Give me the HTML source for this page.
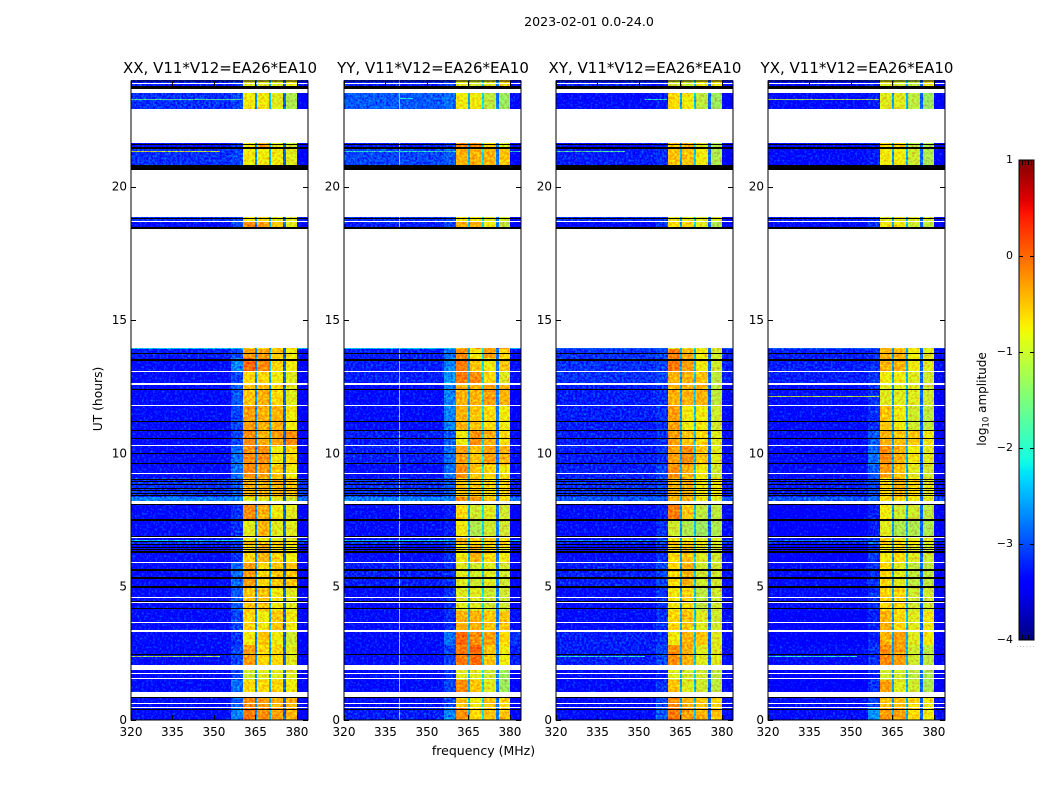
<!DOCTYPE html>
<html>
<head>
<meta charset="utf-8">
<title>2023-02-01 0.0-24.0</title>
<style>
html,body{margin:0;padding:0;background:#fff;}
svg{display:block;}
text{font-family:"DejaVu Sans","Liberation Sans",sans-serif;fill:#000;}
</style>
</head>
<body>
<svg id="chart" xmlns="http://www.w3.org/2000/svg" width="1050" height="800" viewBox="0 0 1050 800">
<defs>
<linearGradient id="jet-gradient" x1="0" y1="0" x2="0" y2="1"></linearGradient>
<filter id="speckle-strong" filterUnits="userSpaceOnUse" x="0" y="0" width="1050" height="800" color-interpolation-filters="sRGB">
<feTurbulence type="fractalNoise" baseFrequency="0.45" numOctaves="2" seed="3" result="n"/>
<feColorMatrix in="n" type="matrix" values="0 0 0 0 0.7 1 0 0 0 0 0 0 0 0 0.7 0 0 0 0 1" result="g"/>
<feComposite in="SourceGraphic" in2="g" operator="arithmetic" k1="0" k2="1" k3="1" k4="-0.7" result="m"/>
<feComposite in="m" in2="SourceAlpha" operator="in"/>
</filter>
<filter id="speckle-soft" filterUnits="userSpaceOnUse" x="0" y="0" width="1050" height="800" color-interpolation-filters="sRGB">
<feTurbulence type="fractalNoise" baseFrequency="0.4" numOctaves="2" seed="8" result="n"/>
<feColorMatrix in="n" type="matrix" values="0 0 0 0 0.6 1 0 0 0 0 0 0 0 0 0.6 0 0 0 0 1" result="g"/>
<feComposite in="SourceGraphic" in2="g" operator="arithmetic" k1="0" k2="1" k3="0.8" k4="-0.48" result="m"/>
<feComposite in="m" in2="SourceAlpha" operator="in"/>
</filter>
</defs>
<text x="589" y="26" font-size="12.6" text-anchor="middle">2023-02-01 0.0-24.0</text>
<text x="483.5" y="755" font-size="12.5" text-anchor="middle">frequency (MHz)</text>
<text x="102" y="399" font-size="12.3" text-anchor="middle" transform="rotate(-90 102 399)">UT (hours)</text>
<text x="986" y="399" font-size="12" text-anchor="middle" transform="rotate(-90 986 399)">log<tspan font-size="8.5" dy="2.5">10</tspan><tspan dy="-2.5"> amplitude</tspan></text>
<g id="panels"></g>
<g id="colorbar"></g>
</svg>
<script>
// ---- data ----
const panelTitles = ['XX, V11*V12=EA26*EA10', 'YY, V11*V12=EA26*EA10', 'XY, V11*V12=EA26*EA10', 'YX, V11*V12=EA26*EA10'];
const xTickLabels = [320, 335, 350, 365, 380];
const yTickLabels = [0, 5, 10, 15, 20];
const colorbarTickLabels = [1, 0, -1, -2, -3, -4];

// Time blocks with data, [start, end] in hours UT
const timeBlocks = [[0,.45],[.45,.86],[1.05,1.5],[1.5,1.88],[2.06,2.8],[2.8,3.33],[3.33,4.1],[4.1,5],[5,5.9],[5.9,6.55],[6.55,6.68],[6.68,6.75],[6.75,6.87],[6.87,7.5],[7.5,8.1],[8.21,8.37],[8.37,9.07],[9.07,9.57],[9.57,10.32],[10.32,10.87],[10.87,11.8],[11.8,12.6],[12.6,13.05],[13.05,13.58],[13.58,13.92],[13.92,13.96],[18.43,18.68],[18.68,18.87],[20.64,21.4],[21.4,21.64],[22.91,23.51],[23.77,24]];

// Frequency columns in MHz: background, band edge, four bright bands, right side
const freqColumns = [[320,356],[356,360.5],[360.5,364.7],[365.6,369.9],[370.6,375],[375.9,380],[380,384]];
const gapColumns = [[364.7,365.6],[369.9,370.6],[375,375.9]];

// Log amplitude x10 per time block, one row per block: [background, edge, band1..band4, right]
const xxLevels = [
[-31,-25,-2,-3,-4,-5,-32],[-31,-27,-3,-4,-5,-5,-32],[-31,-26,-7,-7,-7,-8,-32],[-31,-28,-10,-9,-9,-9,-32],
[-31,-28,-4,-7,-7,-9,-32],[-31,-29,-8,-6,-8,-10,-32],[-31,-28,-7,-8,-6,-8,-32],[-31,-27,-6,-6,-8,-9,-32],
[-31,-26,-4,-7,-6,-6,-32],[-31,-29,-7,-5,-7,-8,-32],[-29,-28,-5,-6,-6,-7,-30],[-22,-22,-9,-9,-9,-9,-24],
[-31,-29,-8,-8,-9,-9,-32],[-31,-29,-9,-5,-9,-9,-32],[-31,-29,-3,-5,-8,-9,-32],[-25,-25,-9,-9,-9,-10,-26],
[-29,-27,-5,-5,-5,-6,-29],[-31,-26,-3,-4,-6,-8,-32],[-31,-26,-3,-3,-8,-7,-32],[-31,-28,-3,-5,-4,-3,-32],
[-31,-28,-4,-5,-5,-8,-32],[-31,-27,-6,-5,-7,-9,-32],[-31,-28,-7,-7,-8,-9,-32],[-31,-25,-1,-3,-7,-8,-32],
[-30,-28,-4,-4,-6,-8,-31],[-22,-22,-7,-7,-7,-7,-23],[-31,-28,-3,-4,-6,-9,-32],[-29,-28,-8,-8,-9,-9,-30],
[-29,-28,-8,-8,-8,-9,-32],[-31,-29,-8,-5,-9,-10,-32],[-29,-28,-8,-8,-9,-12,-32],[-30,-29,-9,-9,-9,-8,-31]];
const yyLevels = [
[-30,-25,-3,-7,-6,-6,-32],[-31,-28,-6,-8,-6,-7,-32],[-31,-28,-3,-6,-9,-13,-32],[-31,-29,-9,-9,-10,-13,-32],
[-31,-28,-2,-1,-6,-8,-30],[-31,-26,-1,-3,-4,-7,-29],[-31,-29,-5,-5,-6,-6,-31],[-31,-29,-9,-9,-10,-10,-32],
[-30,-29,-9,-10,-9,-10,-32],[-31,-29,-8,-5,-7,-8,-32],[-29,-28,-5,-7,-6,-7,-30],[-22,-22,-6,-6,-7,-7,-23],
[-31,-29,-5,-7,-6,-7,-32],[-31,-30,-8,-12,-10,-10,-32],[-31,-30,-7,-10,-9,-10,-32],[-25,-25,-3,-3,-6,-7,-26],
[-29,-27,-6,-6,-7,-7,-30],[-31,-26,-3,-6,-7,-8,-31],[-30,-26,-4,-6,-4,-5,-31],[-30,-27,-8,-3,-5,-7,-31],
[-31,-25,-5,-6,-7,-8,-32],[-31,-25,-5,-5,-4,-5,-32],[-30,-24,-2,-3,-7,-9,-31],[-30,-25,-2,-6,-8,-6,-31],
[-30,-26,-3,-8,-4,-7,-31],[-22,-22,-5,-5,-5,-5,-23],[-30,-28,-5,-5,-8,-11,-32],[-29,-28,-8,-8,-9,-10,-31],
[-28,-27,-5,-5,-5,-6,-32],[-30,-29,-3,-3,-7,-9,-32],[-27,-26,-8,-8,-11,-13,-31],[-30,-29,-9,-10,-9,-7,-31]];
const xyLevels = [
[-31,-27,-2,-4,-5,-6,-31],[-31,-28,-3,-5,-6,-7,-31],[-31,-29,-6,-9,-10,-11,-31],[-31,-30,-9,-10,-10,-11,-31],
[-30,-28,-3,-5,-9,-9,-31],[-30,-29,-8,-5,-6,-9,-31],[-31,-29,-7,-6,-9,-10,-31],[-31,-29,-8,-7,-11,-10,-31],
[-30,-28,-7,-5,-10,-10,-31],[-31,-29,-7,-6,-9,-10,-31],[-30,-28,-5,-7,-8,-9,-30],[-25,-25,-8,-8,-9,-10,-26],
[-31,-29,-8,-8,-9,-9,-31],[-31,-29,-10,-12,-13,-12,-31],[-31,-30,-2,-6,-11,-11,-31],[-27,-27,-5,-5,-8,-9,-27],
[-29,-28,-5,-5,-8,-8,-30],[-30,-28,-3,-5,-8,-10,-31],[-30,-29,-4,-3,-6,-9,-31],[-30,-29,-4,-6,-7,-9,-31],
[-30,-29,-4,-8,-8,-10,-31],[-30,-29,-5,-5,-5,-11,-31],[-29,-28,-5,-5,-6,-11,-30],[-29,-28,-2,-4,-8,-10,-30],
[-29,-28,-2,-5,-8,-10,-30],[-27,-27,-9,-9,-9,-9,-27],[-31,-29,-7,-7,-9,-12,-32],[-29,-29,-9,-9,-9,-9,-31],
[-30,-29,-6,-6,-8,-12,-32],[-31,-30,-6,-5,-9,-12,-32],[-31,-30,-7,-8,-11,-13,-32],[-30,-30,-10,-10,-8,-8,-31]];
const yxLevels = [
[-31,-24,-4,-4,-7,-8,-31],[-31,-28,-6,-6,-7,-8,-31],[-32,-29,-4,-9,-10,-12,-32],[-32,-30,-10,-10,-11,-12,-32],
[-31,-29,-3,-4,-10,-11,-32],[-32,-30,-5,-4,-9,-8,-32],[-32,-30,-5,-7,-9,-8,-32],[-31,-29,-7,-7,-10,-10,-32],
[-31,-29,-7,-9,-11,-11,-32],[-32,-29,-8,-7,-9,-10,-32],[-30,-26,-6,-7,-8,-9,-31],[-26,-26,-7,-7,-8,-9,-27],
[-31,-29,-7,-8,-9,-9,-32],[-32,-30,-9,-12,-12,-12,-32],[-32,-30,-8,-10,-10,-11,-32],[-27,-26,-7,-7,-8,-9,-28],
[-30,-28,-7,-5,-7,-9,-31],[-31,-27,-4,-6,-9,-10,-32],[-31,-26,-3,-5,-8,-9,-32],[-31,-27,-5,-6,-6,-8,-32],
[-31,-29,-6,-8,-10,-11,-32],[-31,-29,-9,-9,-9,-10,-32],[-30,-29,-8,-8,-9,-10,-31],[-30,-29,-5,-5,-8,-9,-31],
[-30,-29,-5,-5,-8,-9,-31],[-27,-27,-6,-6,-8,-9,-28],[-31,-29,-8,-8,-10,-11,-32],[-30,-29,-9,-9,-9,-10,-31],
[-31,-30,-8,-8,-10,-12,-32],[-31,-30,-7,-7,-11,-12,-32],[-31,-30,-9,-9,-11,-13,-32],[-31,-30,-9,-10,-11,-8,-32]];
const panelLevels = [xxLevels, yyLevels, xyLevels, yxLevels];

// Log amplitude x10 in the three narrow gaps between bands, one row per panel
const gapLevels = [[-26,-24,-28],[-24,-22,-27],[-25,-23,-28],[-25,-24,-28]];

// Narrowband lines: panel index, start/end MHz, start/end hour, log amplitude x10
const burstLines = [
[0,320,352,21.3,21.34,-11],[0,320,360,23.25,23.29,-18],[0,320,352,2.36,2.4,-13],
[1,320,384,21.3,21.34,-20],[1,340,345,23.3,23.34,-21],
[2,320,345,21.3,21.34,-18],[2,352,360,23.25,23.29,-20],[2,320,352,2.36,2.4,-20],
[3,320,360,23.25,23.29,-13],[3,320,360,12.13,12.16,-12],[3,320,352,2.36,2.4,-20]];
// Persistent single-channel interference: panel index, start/end MHz, log amplitude x10
const channelLines = [[1,339.9,340.4,-13]];

// Flagged integrations (hours): blank rows and rows plotted black
const blankRows = [[.59,.63],[.44,.47],[1.52,1.56],[1.74,1.78],[3.31,3.38],[3.62,3.66],[4.37,4.41],[4.56,4.6],[5.87,5.91],[6.81,6.86],[9.24,9.28],[10.29,10.33],[11.79,11.83],[12.58,12.62],[13.05,13.09],[18.69,18.73],[23.85,23.9]];
const blackRows = [[.37,.41],[.82,.86],[2.43,2.47],[4.15,4.19],[4.42,4.46],[4.96,5.03],[5.3,5.35],[5.6,5.65],[6.28,6.32],[6.36,6.4],[6.44,6.48],[6.55,6.6],[6.66,6.7],[6.86,6.9],[7.48,7.52],[8.06,8.1],[8.4,8.44],[8.47,8.51],[8.58,8.62],[8.66,8.7],[8.8,8.84],[8.92,8.96],[9,9.04],[9.6,9.64],[9.96,10],[10.53,10.57],[10.83,10.87],[11.16,11.2],[12.36,12.4],[13.48,13.52],[13.71,13.75],[18.43,18.49],[18.78,18.81],[20.64,20.81],[21.43,21.47],[21.55,21.59],[23.66,23.77]];

// ---- scales ----
const SVGNS = 'http://www.w3.org/2000/svg';
const panelLefts = [131, 344, 556, 768];
const panelWidth = 177;
const plotTop = 80, plotBottom = 720;
function xScale(left, mhz){ return left + (mhz - 320) / 64 * panelWidth; }
function yScale(hour){ return plotBottom - hour / 24 * (plotBottom - plotTop); }
function lerpStops(stops, n){
  for (let i = 1; i < stops.length; i++) {
    if (n <= stops[i][0]) {
      const a = stops[i-1], b = stops[i];
      return a[1] + (b[1]-a[1]) * (n-a[0]) / (b[0]-a[0]);
    }
  }
  return stops[stops.length-1][1];
}
const jetRed = [[0,0],[.35,0],[.66,1],[.89,1],[1,.5]];
const jetGreen = [[0,0],[.125,0],[.375,1],[.64,1],[.91,0],[1,0]];
const jetBlue = [[0,.5],[.11,1],[.34,1],[.65,0],[1,0]];
function jetAt(n){
  n = Math.max(0, Math.min(1, n));
  return 'rgb(' + Math.round(255*lerpStops(jetRed,n)) + ',' + Math.round(255*lerpStops(jetGreen,n)) + ',' + Math.round(255*lerpStops(jetBlue,n)) + ')';
}
function colorOf(tenths){ return jetAt((tenths / 10 + 4) / 5); }
function make(tag, parent, attrs){
  const el = document.createElementNS(SVGNS, tag);
  for (const k in attrs) el.setAttribute(k, attrs[k]);
  parent.appendChild(el);
  return el;
}
function cellRect(parent, left, f0, f1, t0, t1, fill){
  const x0 = Math.round(xScale(left, f0)), x1 = Math.round(xScale(left, f1));
  const y0 = Math.round(yScale(t1)), y1 = Math.round(yScale(t0));
  return make('rect', parent, {x:x0, y:y0, width:Math.max(1,x1-x0), height:Math.max(1,y1-y0), fill:fill, 'shape-rendering':'crispEdges'});
}

// ---- panels ----
const panelsRoot = document.getElementById('panels');
panelLefts.forEach(function(left, p){
  const panel = make('g', panelsRoot, {});
  
  

  const title = make('text', panel, {x:left + panelWidth/2 + 0.5, y:73, 'font-size':15, 'text-anchor':'middle'});
  title.textContent = panelTitles[p];
  
  

  const bgGroup = make('g', panel, {filter:'url(#speckle-strong)'});
  
  
  const bandGroup = make('g', panel, {filter:'url(#speckle-soft)'});
  
  

  timeBlocks.forEach(function(block, b){
    const row = panelLevels[p][b];
    freqColumns.forEach(function(col, c){
      const target = (c >= 2 && c <= 5) ? bandGroup : bgGroup;
      const cell = cellRect(target, left, col[0], col[1], block[0], block[1], colorOf(row[c]));
      
      
    });
    gapColumns.forEach(function(col, g){
      const cell = cellRect(bandGroup, left, col[0], col[1], block[0], block[1], colorOf(gapLevels[p][g]));
      
      
    });
    channelLines.filter(function(l){ return l[0] === p; }).forEach(function(l){
      const cell = cellRect(bgGroup, left, l[1], l[2], block[0], block[1], colorOf(l[3]));
      
      
    });
  });
  burstLines.filter(function(l){ return l[0] === p; }).forEach(function(l){
    const cell = cellRect(bgGroup, left, l[1], l[2], l[3], l[4], colorOf(l[5]));
    
    
  });

  blankRows.forEach(function(r){
    const rowEl = cellRect(panel, left, 320, 384, r[0], r[1], '#fff');
    
    
  });
  blackRows.forEach(function(r){
    const rowEl = cellRect(panel, left, 320, 384, r[0], r[1], '#000');
    
    
  });

  const frame = make('rect', panel, {x:left, y:plotTop + 1, width:panelWidth, height:plotBottom - plotTop - 1, fill:'none', stroke:'#000', 'stroke-width':1});
  
  

  xTickLabels.forEach(function(v){
    const x = Math.round(xScale(left, v)) + 0.5;
    const t1 = make('line', panel, {x1:x, x2:x, y1:plotBottom, y2:plotBottom - 5, stroke:'#000', 'stroke-width':1});
    
    
    const t2 = make('line', panel, {x1:x, x2:x, y1:plotTop + 1, y2:plotTop + 6, stroke:'#000', 'stroke-width':1});
    
    
    const lab = make('text', panel, {x:xScale(left, v), y:736, 'font-size':12, 'text-anchor':'middle'});
    lab.textContent = v;
    
    
  });
  yTickLabels.forEach(function(v){
    const y = Math.round(yScale(v)) + 0.5;
    const t1 = make('line', panel, {x1:left, x2:left + 5, y1:y, y2:y, stroke:'#000', 'stroke-width':1});
    
    
    const t2 = make('line', panel, {x1:left + panelWidth, x2:left + panelWidth - 5, y1:y, y2:y, stroke:'#000', 'stroke-width':1});
    
    
    const lab = make('text', panel, {x:left - 4, y:yScale(v) + 4, 'font-size':12, 'text-anchor':'end'});
    lab.textContent = v;
    
    
  });
});

// ---- colorbar ----
const cbRoot = document.getElementById('colorbar');
const cbLeft = 1019, cbRight = 1034, cbTop = 160, cbBottom = 640;
function cbY(v){ return cbBottom - (v + 4) / 5 * (cbBottom - cbTop); }
const grad = document.getElementById('jet-gradient');
for (let i = 0; i <= 60; i++) {
  make('stop', grad, {offset:(i/60), 'stop-color':jetAt(1 - i/60)});
}
const bar = make('rect', cbRoot, {x:cbLeft, y:cbTop, width:cbRight - cbLeft, height:cbBottom - cbTop, fill:'url(#jet-gradient)', stroke:'#000', 'stroke-width':1});


[1022, 1025, 1028, 1031].forEach(function(x){
  const a = make('line', cbRoot, {x1:x + .5, x2:x + .5, y1:cbTop, y2:cbTop + 5, stroke:'#000', 'stroke-width':1});
  
  
  const b = make('line', cbRoot, {x1:x + .5, x2:x + .5, y1:cbBottom, y2:cbBottom - 5, stroke:'#000', 'stroke-width':1});
  
  
});
colorbarTickLabels.forEach(function(v){
  const y = Math.round(cbY(v)) + 0.5;
  if (v !== 1 && v !== -4) {
    const l = make('line', cbRoot, {x1:cbLeft, x2:cbLeft + 4, y1:y, y2:y, stroke:'#000', 'stroke-width':1});
    
    
    const r = make('line', cbRoot, {x1:cbRight, x2:cbRight - 4, y1:y, y2:y, stroke:'#000', 'stroke-width':1});
    
    
  }
  const lab = make('text', cbRoot, {x:1013, y:cbY(v) + 3, 'font-size':11, 'text-anchor':'end'});
  lab.textContent = String(v).replace('-', '\u2212');
  
  
});
const dots = make('text', cbRoot, {x:1026, y:647, 'font-size':6, 'text-anchor':'middle', 'letter-spacing':'1.3'});
dots.textContent = '......';
dots.setAttribute('style', 'fill:#777');


</script>
</body>
</html>
